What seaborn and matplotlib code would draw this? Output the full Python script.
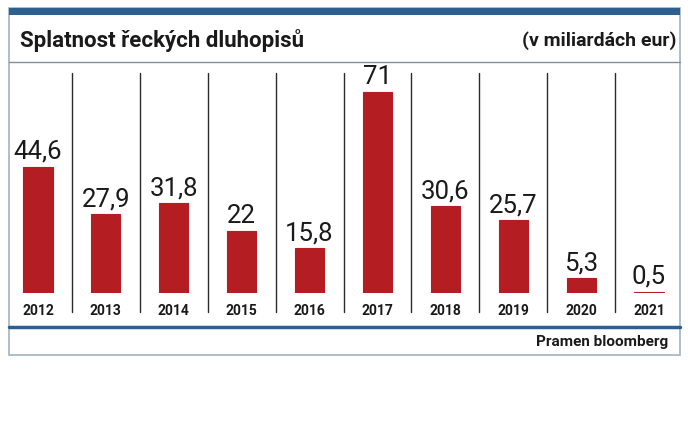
import matplotlib
matplotlib.use("Agg")
import matplotlib.pyplot as plt
import seaborn as sns
import pandas as pd
from matplotlib.patches import Rectangle
from matplotlib.lines import Line2D

years = ["2012", "2013", "2014", "2015", "2016", "2017", "2018", "2019", "2020", "2021"]
values = [44.6, 27.9, 31.8, 22, 15.8, 71, 30.6, 25.7, 5.3, 0.5]
labels = ["44,6", "27,9", "31,8", "22", "15,8", "71", "30,6", "25,7", "5,3", "0,5"]
title = "Splatnost řeckých dluhopisů"
unit = "(v miliardách eur)"
source = "Pramen bloomberg"

sns.set_theme(style="white")
FAM = ["Roboto", "DejaVu Sans"]
plt.rcParams["font.family"] = FAM

W, H = 688, 433
fig = plt.figure(figsize=(W / 100, H / 100), dpi=100, facecolor="white")

def fx(px):
    return px / W

def fy(py):
    return 1 - py / H

RED = "#b41d22"
BLUE = "#2e5f8e"

# frame
fig.patches.append(Rectangle((fx(9), fy(355)), fx(680 - 9), (355 - 8) / H,
                             transform=fig.transFigure, facecolor="none",
                             edgecolor="#9fb3c4", linewidth=1.2, zorder=0))
# top blue band
fig.patches.append(Rectangle((fx(9), fy(15)), fx(680 - 9), 7 / H,
                             transform=fig.transFigure, facecolor=BLUE,
                             edgecolor="none", zorder=1))
# separator under title
fig.lines.append(Line2D([fx(9), fx(680)], [fy(62), fy(62)], transform=fig.transFigure,
                        color="#7f8f9b", linewidth=1.0))
# blue line above source
fig.lines.append(Line2D([fx(9), fx(680)], [fy(327), fy(327)], transform=fig.transFigure,
                        color=BLUE, linewidth=2.5))

fig.text(fx(20), fy(40), title, fontsize=16, fontweight="bold", va="center", ha="left",
         color="#1a1a1a", family=FAM)
fig.text(fx(677), fy(41), unit, fontsize=14, fontweight="bold", va="center", ha="right",
         color="#1a1a1a", family=FAM)
fig.text(fx(668), fy(342), source, fontsize=11, fontweight="bold", va="center", ha="right",
         color="#1a1a1a", family=FAM)

# axes: baseline at y=293 px, 71 at y=92 px
scale = (293 - 92) / 71.0
top_px = 73
ymax = (293 - top_px) / scale
ax = fig.add_axes([fx(4), fy(293), fx(683 - 4), (293 - top_px) / H])
ax.set_facecolor("none")

df = pd.DataFrame({"year": years, "value": values})
sns.barplot(data=df, x="year", y="value", color=RED, width=0.43, saturation=1,
            edgecolor=RED, linewidth=0.8, ax=ax)

ax.set_xlim(-0.5, len(years) - 0.5)
ax.set_ylim(0, ymax)
for s in ax.spines.values():
    s.set_visible(False)
ax.set_yticks([])
ax.set_xlabel("")
ax.set_ylabel("")
ax.tick_params(axis="x", length=0, pad=8, labelsize=10, labelcolor="#1a1a1a")
for t in ax.get_xticklabels():
    t.set_fontweight("bold")

for i, (v, lab) in enumerate(zip(values, labels)):
    ax.annotate(lab, (i, v), xytext=(0, 2), textcoords="offset points",
                ha="center", va="bottom", fontsize=18.5, color="#1a1a1a")

# vertical separators between categories
for i in range(len(years) - 1):
    xb = i + 0.5
    ax.plot([xb, xb], [ymax, -(312 - 293) / scale], color="#2a2a2a", linewidth=1.0,
            clip_on=False)

fig.savefig("out.png", dpi=100, facecolor="white")
